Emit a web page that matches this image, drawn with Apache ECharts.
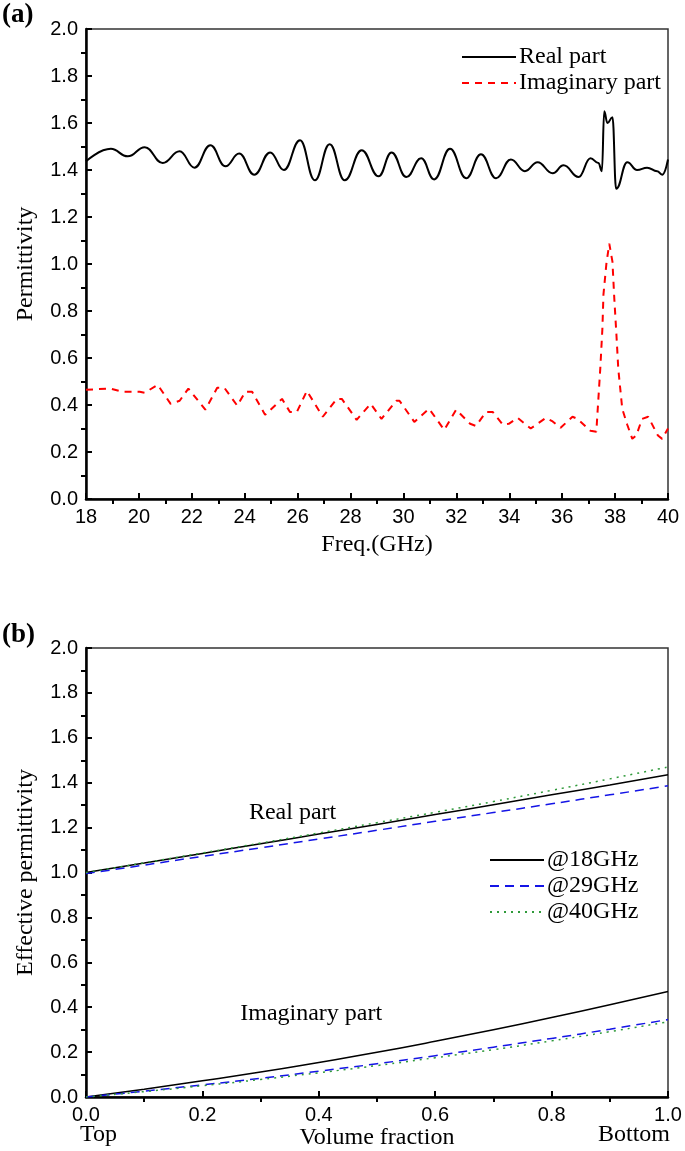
<!DOCTYPE html>
<html>
<head>
<meta charset="UTF-8">
<title>Permittivity</title>
<script src="https://cdn.jsdelivr.net/npm/echarts@6.0.0/dist/echarts.min.js"></script>
<style>
    html, body {
        margin: 0;
        padding: 0;
        background: #fff;
    }

    #chart {
        width: 685px;
        height: 1151px;
    }
</style>
</head>
<body>
<div id="chart"></div>
<script>
    // (a) measured permittivity, 18-40 GHz
    const freqReal = [18.0, 18.94, 19.58, 20.22, 20.9, 21.54, 22.1, 22.7, 23.27, 23.79, 24.36, 24.96, 25.48,
        26.09, 26.65, 27.21, 27.78, 28.42, 29.06, 29.55, 30.11, 30.67, 31.16, 31.76, 32.37, 32.93, 33.5,
        34.06, 34.59, 35.07, 35.64, 36.05, 36.62, 37.07, 37.37, 37.5, 37.59, 37.71, 37.9, 38.04, 38.46,
        38.83, 39.21, 39.59, 39.78, 40.0];
    const realPart = [1.437, 1.49, 1.458, 1.497, 1.43, 1.48, 1.41, 1.505, 1.416, 1.47, 1.38, 1.475, 1.40,
        1.527, 1.356, 1.51, 1.356, 1.484, 1.373, 1.475, 1.37, 1.45, 1.36, 1.49, 1.365, 1.467, 1.365,
        1.445, 1.395, 1.433, 1.386, 1.42, 1.37, 1.45, 1.43, 1.395, 1.65, 1.6, 1.625, 1.32, 1.433,
        1.40, 1.41, 1.395, 1.38, 1.445];

    const freqImag = [18.0, 18.9, 19.39, 20.03, 20.22, 20.71, 21.2, 21.54, 21.87, 22.51, 22.96, 23.23,
        23.72, 24.02, 24.28, 24.77, 25.41, 25.71, 25.97, 26.35, 26.95, 27.48, 27.67, 28.23, 28.76, 29.17,
        29.73, 29.85, 30.41, 30.97, 31.54, 31.99, 32.52, 32.74, 33.12, 33.38, 33.76, 33.98, 34.32, 34.81,
        35.38, 35.64, 35.94, 36.39, 36.58, 37.07, 37.29, 37.44, 37.52, 37.56, 37.67, 37.78, 37.9, 37.97,
        38.05, 38.12, 38.27, 38.46, 38.65, 38.8, 39.02, 39.25, 39.62, 39.78, 40.0];
    const imagPart = [0.465, 0.47, 0.456, 0.456, 0.452, 0.486, 0.405, 0.418, 0.47, 0.38, 0.473, 0.473,
        0.397, 0.456, 0.456, 0.358, 0.426, 0.37, 0.37, 0.46, 0.35, 0.426, 0.426, 0.337, 0.405, 0.341,
        0.418, 0.418, 0.328, 0.384, 0.294, 0.38, 0.32, 0.311, 0.37, 0.37, 0.316, 0.32, 0.345, 0.30,
        0.345, 0.33, 0.303, 0.35, 0.341, 0.29, 0.286, 0.555, 0.725, 0.87, 1.0, 1.087, 1.01, 0.853,
        0.70, 0.555, 0.384, 0.316, 0.256, 0.27, 0.341, 0.35, 0.27, 0.256, 0.30];

    // (b) effective permittivity vs volume fraction
    const volFrac = [0, 0.1, 0.2, 0.3, 0.4, 0.5, 0.6, 0.7, 0.8, 0.9, 1.0];
    const real18 = [1.0, 1.042, 1.085, 1.128, 1.171, 1.214, 1.258, 1.302, 1.346, 1.39, 1.435];
    const real29 = [0.995, 1.033, 1.072, 1.11, 1.149, 1.188, 1.228, 1.267, 1.306, 1.346, 1.386];
    const real40 = [1.0, 1.043, 1.087, 1.131, 1.176, 1.222, 1.268, 1.316, 1.366, 1.417, 1.47];
    const imag18 = [0, 0.035, 0.072, 0.111, 0.154, 0.199, 0.248, 0.30, 0.354, 0.411, 0.47];
    const imag29 = [0, 0.026, 0.054, 0.083, 0.115, 0.148, 0.184, 0.222, 0.261, 0.302, 0.345];
    const imag40 = [0, 0.024, 0.05, 0.078, 0.108, 0.14, 0.175, 0.211, 0.25, 0.291, 0.335];

    const legendA = ['Real part', 'Imaginary part'];
    const legendB = ['@18GHz', '@29GHz', '@40GHz'];

    const SERIF = "'Liberation Serif', 'DejaVu Serif', serif";
    const SANS = "'Liberation Sans', Arial, sans-serif";

    const gridA = { left: 86, top: 29, width: 582, height: 470 };
    const gridB = { left: 86, top: 648, width: 582, height: 449 };

    const zip = (xs, ys) => xs.map((x, i) => [x, ys[i]]);

    function axis(gridIndex, min, max, interval, digits, extra) {
        return Object.assign({
            type: 'value',
            gridIndex: gridIndex,
            min: min,
            max: max,
            interval: interval,
            axisLine: { show: true, lineStyle: { color: '#000', width: 2.5 } },
            axisTick: { show: true, inside: true, length: 6, lineStyle: { color: '#000', width: 2 } },
            minorTick: { show: true, splitNumber: 2, length: -5, lineStyle: { color: '#000', width: 2 } },
            splitLine: { show: false },
            axisLabel: {
                color: '#000',
                fontFamily: SANS,
                fontSize: 20,
                margin: 8,
                formatter: v => digits ? v.toFixed(digits) : String(v)
            },
            nameTextStyle: { color: '#000', fontFamily: SERIF, fontSize: 24 }
        }, extra);
    }

    const chart = echarts.init(document.getElementById('chart'), null, { renderer: 'canvas' });

    const lineBase = { type: 'line', symbol: 'none', animation: false };

    const legendCommon = {
        orient: 'vertical',
        itemHeight: 14,
        itemGap: 2,
        itemStyle: { opacity: 0 },
        textStyle: { color: '#000', fontFamily: SERIF, fontSize: 24, padding: [0, 0, 0, -2] }
    };

    chart.setOption({
        backgroundColor: '#fff',
        animation: false,
        grid: [
            Object.assign({ show: true, borderColor: '#333', borderWidth: 1.5 }, gridA),
            Object.assign({ show: true, borderColor: '#333', borderWidth: 1.5 }, gridB)
        ],
        xAxis: [
            axis(0, 18, 40, 2, 0, { name: 'Freq.(GHz)', nameLocation: 'middle', nameGap: 34 }),
            axis(1, 0, 1, 0.2, 1, { name: 'Volume fraction', nameLocation: 'middle', nameGap: 28 })
        ],
        yAxis: [
            axis(0, 0, 2, 0.2, 1, { name: 'Permittivity', nameLocation: 'middle', nameGap: 48 }),
            axis(1, 0, 2, 0.2, 1, { name: 'Effective permittivity', nameLocation: 'middle', nameGap: 48 })
        ],
        legend: [
            Object.assign({}, legendCommon, {
                data: legendA,
                left: 456,
                top: 40,
                itemWidth: 54
            }),
            Object.assign({}, legendCommon, {
                data: legendB,
                left: 484,
                top: gridB.top + 195,
                itemWidth: 54
            })
        ],
        series: [
            Object.assign({}, lineBase, {
                name: 'Real part', xAxisIndex: 0, yAxisIndex: 0,
                data: zip(freqReal, realPart),
                smooth: 0.45, smoothMonotone: 'x',
                lineStyle: { color: '#000', width: 2 },
                itemStyle: { color: '#000' }
            }),
            Object.assign({}, lineBase, {
                name: 'Imaginary part', xAxisIndex: 0, yAxisIndex: 0,
                data: zip(freqImag, imagPart),
                lineStyle: { color: '#ff0000', width: 2, type: [7, 6] },
                itemStyle: { color: '#ff0000' }
            }),
            // real parts
            Object.assign({}, lineBase, {
                name: '@18GHz', xAxisIndex: 1, yAxisIndex: 1, smooth: true,
                data: zip(volFrac, real18),
                lineStyle: { color: '#000', width: 1.5 }, itemStyle: { color: '#000' }
            }),
            Object.assign({}, lineBase, {
                name: '@29GHz', xAxisIndex: 1, yAxisIndex: 1, smooth: true,
                data: zip(volFrac, real29),
                lineStyle: { color: '#1414e6', width: 1.5, type: [9, 6] }, itemStyle: { color: '#1414e6' }
            }),
            Object.assign({}, lineBase, {
                name: '@40GHz', xAxisIndex: 1, yAxisIndex: 1, smooth: true,
                data: zip(volFrac, real40),
                lineStyle: { color: '#2f9a3a', width: 1.5, type: [2, 5] }, itemStyle: { color: '#2f9a3a' }
            }),
            // imaginary parts
            Object.assign({}, lineBase, {
                name: '@18GHz', xAxisIndex: 1, yAxisIndex: 1, smooth: true,
                data: zip(volFrac, imag18),
                lineStyle: { color: '#000', width: 1.5 }, itemStyle: { color: '#000' }
            }),
            Object.assign({}, lineBase, {
                name: '@29GHz', xAxisIndex: 1, yAxisIndex: 1, smooth: true,
                data: zip(volFrac, imag29),
                lineStyle: { color: '#1414e6', width: 1.5, type: [9, 6] }, itemStyle: { color: '#1414e6' }
            }),
            Object.assign({}, lineBase, {
                name: '@40GHz', xAxisIndex: 1, yAxisIndex: 1, smooth: true,
                data: zip(volFrac, imag40),
                lineStyle: { color: '#2f9a3a', width: 1.5, type: [2, 5] }, itemStyle: { color: '#2f9a3a' }
            })
        ]
    });

    // text labels placed in data coordinates of panel (b)
    const realLabelPos = chart.convertToPixel({ gridIndex: 1 }, [0.28, 1.265]);
    const imagLabelPos = chart.convertToPixel({ gridIndex: 1 }, [0.265, 0.37]);
    const textStyle = (text, size, weight) => ({ text: text, fill: '#000', font: `${weight || 'normal'} ${size}px ${SERIF}` });

    chart.setOption({
        graphic: [
            { type: 'text', left: 2, top: 2, style: textStyle('(a)', 27, 'bold') },
            { type: 'text', left: 2, top: gridB.top - 26, style: textStyle('(b)', 27, 'bold') },
            { type: 'text', x: realLabelPos[0], y: realLabelPos[1], style: Object.assign(textStyle('Real part', 24), { verticalAlign: 'middle' }) },
            { type: 'text', x: imagLabelPos[0], y: imagLabelPos[1], style: Object.assign(textStyle('Imaginary part', 24), { verticalAlign: 'middle' }) },
            { type: 'text', left: 80, top: gridB.top + gridB.height + 26, style: textStyle('Top', 24) },
            { type: 'text', left: 598, top: gridB.top + gridB.height + 26, style: textStyle('Bottom', 24) }
        ]
    });
</script>
</body>
</html>
